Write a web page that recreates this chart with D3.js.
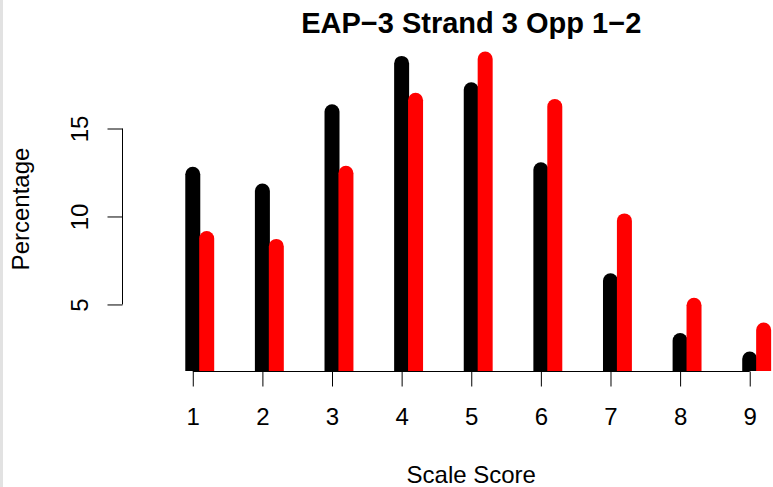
<!DOCTYPE html>
<html>
<head>
<meta charset="utf-8">
<script src="https://cdn.jsdelivr.net/npm/d3@7"></script>
<style>
  html, body { margin: 0; padding: 0; background: #fff; }
  svg { display: block; }
  text { font-family: "Liberation Sans", Arial, Helvetica, sans-serif; fill: #000; }
</style>
</head>
<body>
<svg id="chart" width="773" height="487"></svg>
<script>
// Score distribution: percentage of students at each scale score, two groups
const scores = [1, 2, 3, 4, 5, 6, 7, 8, 9];
const groupA = [12.4, 11.45, 15.95, 18.7, 17.2, 12.65, 6.35, 2.95, 1.9];   // black
const groupB = [8.75, 8.3, 12.45, 16.6, 18.95, 16.25, 9.75, 4.95, 3.55];   // red
const yTicks = [5, 10, 15];
const titleText = "EAP\u22123 Strand 3 Opp 1\u22122";
const xLabel = "Scale Score";
const yLabel = "Percentage";

const svg = d3.select("#chart");
const W = 773, H = 487;

// plot region
const plotL = 170.5, plotR = 772, plotT = 47, plotB = 371;

// axis limits padded by 4% of the data range
const pad = (lo, hi) => { const r = hi - lo; return [lo - 0.04 * r, hi + 0.04 * r]; };
const xDom = pad(d3.min(scores), d3.max(scores));
const allVals = groupA.concat(groupB);
const yDom = pad(d3.min(allVals), d3.max(allVals));

const x = d3.scaleLinear().domain(xDom).range([plotL, plotR]);
const y = d3.scaleLinear().domain(yDom).range([plotB, plotT]);

// thin grey frame strip at the left edge
svg.append("rect").attr("x", 0).attr("y", 0).attr("width", 3).attr("height", H).attr("fill", "#e2e2e2");

svg.append("defs").append("clipPath").attr("id", "plotClip")
  .append("rect").attr("x", plotL).attr("y", 0).attr("width", plotR - plotL).attr("height", plotB);

const plot = svg.append("g").attr("clip-path", "url(#plotClip)");
const offset = 0.2;
const lw = 15;

const series = [
  { vals: groupA, dx: 0, color: "#000000" },
  { vals: groupB, dx: offset, color: "#ff0000" }
];
series.forEach(s => {
  plot.append("g").selectAll("line").data(s.vals).join("line")
    .attr("x1", (d, i) => x(scores[i] + s.dx))
    .attr("x2", (d, i) => x(scores[i] + s.dx))
    .attr("y1", y(yDom[0]) + lw)
    .attr("y2", d => y(d))
    .attr("stroke", s.color)
    .attr("stroke-width", lw)
    .attr("stroke-linecap", "round");
});

// x axis
const xAxis = svg.append("g").attr("transform", `translate(0,${plotB + 0.5})`)
  .call(d3.axisBottom(x).tickValues(scores).tickSize(15).tickPadding(21).tickFormat(d3.format("d")));
xAxis.select(".domain").remove();
xAxis.append("line")
  .attr("x1", x(scores[0])).attr("x2", x(scores[scores.length - 1]))
  .attr("stroke", "#000").attr("stroke-width", 1);
xAxis.selectAll(".tick line").attr("stroke", "#000");
xAxis.selectAll("text").attr("font-size", 24).attr("font-family", null).attr("fill", "#000");

// y axis
const yAxis = svg.append("g").attr("transform", `translate(${122.5},0)`)
  .call(d3.axisLeft(y).tickValues(yTicks).tickSize(15).tickFormat(d3.format("d")));
yAxis.select(".domain").remove();
yAxis.append("line")
  .attr("y1", y(yTicks[0])).attr("y2", y(yTicks[yTicks.length - 1]))
  .attr("stroke", "#000").attr("stroke-width", 1);
yAxis.selectAll(".tick line").attr("stroke", "#000");
yAxis.selectAll("text")
  .attr("font-size", 24).attr("font-family", null).attr("fill", "#000")
  .attr("transform", "rotate(-90)")
  .attr("x", 0).attr("y", -35).attr("dy", 0)
  .attr("text-anchor", "middle");

// titles
const cx = (plotL + plotR) / 2;
svg.append("text").attr("x", cx).attr("y", 33)
  .attr("text-anchor", "middle").attr("font-size", 29).attr("font-weight", "bold")
  .text(titleText);
svg.append("text").attr("x", cx).attr("y", 483)
  .attr("text-anchor", "middle").attr("font-size", 24)
  .text(xLabel);
svg.append("text")
  .attr("transform", `translate(29,${(plotT + plotB) / 2}) rotate(-90)`)
  .attr("text-anchor", "middle").attr("font-size", 24)
  .text(yLabel);
</script>
</body>
</html>
